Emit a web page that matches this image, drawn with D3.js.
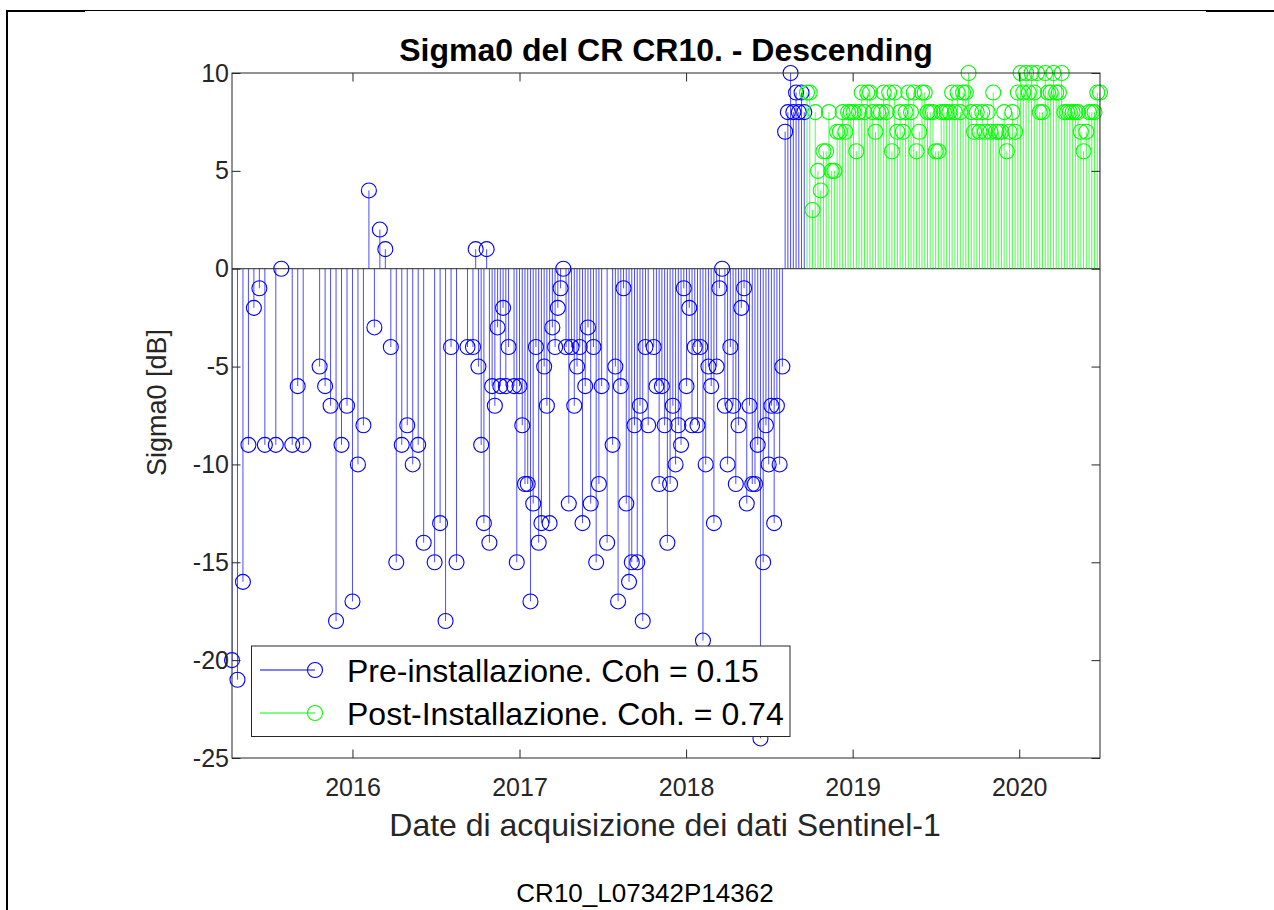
<!DOCTYPE html>
<html><head><meta charset="utf-8">
<script src="https://cdn.jsdelivr.net/npm/d3@7"></script>
<style>
body{margin:0;background:#fff;}
svg{display:block;font-family:"Liberation Sans",Arial,Helvetica,sans-serif;}
</style>
</head><body>
<svg id="chart" width="1274" height="910"></svg>
<script>
// ---- data ----
const preDates = [
"2015-04-12","2015-04-24","2015-05-06","2015-05-18","2015-05-30","2015-06-11","2015-06-23","2015-07-17","2015-07-29","2015-08-22",
"2015-09-03","2015-09-15","2015-10-21","2015-11-02","2015-11-14","2015-11-26","2015-12-08","2015-12-20","2016-01-01","2016-01-13",
"2016-01-25","2016-02-06","2016-02-18","2016-03-01","2016-03-13","2016-03-25","2016-04-06","2016-04-18","2016-04-30","2016-05-12",
"2016-05-24","2016-06-05","2016-06-29","2016-07-11","2016-07-23","2016-08-04","2016-08-16",
"2016-09-09","2016-09-21","2016-09-27","2016-10-03","2016-10-09","2016-10-15","2016-10-21","2016-10-27","2016-11-02","2016-11-08",
"2016-11-14","2016-11-20","2016-11-26","2016-12-02","2016-12-08","2016-12-20","2016-12-26","2017-01-01","2017-01-07","2017-01-13",
"2017-01-19","2017-01-25","2017-01-31","2017-02-06","2017-02-12","2017-02-18","2017-02-24","2017-03-02","2017-03-08","2017-03-14",
"2017-03-20","2017-03-26","2017-04-01","2017-04-07","2017-04-13","2017-04-19","2017-04-25","2017-05-01","2017-05-07","2017-05-13",
"2017-05-19","2017-05-25","2017-05-31","2017-06-06","2017-06-12","2017-06-18","2017-06-24","2017-06-30","2017-07-12","2017-07-24",
"2017-07-30","2017-08-05","2017-08-11","2017-08-17","2017-08-23","2017-08-29","2017-09-04","2017-09-10","2017-09-16","2017-09-22",
"2017-09-28","2017-10-04","2017-10-10","2017-10-22","2017-10-28","2017-11-03","2017-11-09","2017-11-15","2017-11-21","2017-11-27",
"2017-12-03","2017-12-09","2017-12-15","2017-12-21","2017-12-27","2018-01-02","2018-01-08","2018-01-14","2018-01-20","2018-01-26",
"2018-02-01","2018-02-07","2018-02-13","2018-02-19","2018-02-25","2018-03-03","2018-03-09","2018-03-15","2018-03-21","2018-03-27",
"2018-04-02","2018-04-08","2018-04-14","2018-04-20","2018-04-26","2018-05-02","2018-05-08","2018-05-14","2018-05-20","2018-05-26",
"2018-06-01","2018-06-07","2018-06-13","2018-06-19","2018-06-25","2018-07-01","2018-07-07","2018-07-13","2018-07-19","2018-07-25",
"2018-07-31","2018-08-06","2018-08-12","2018-08-18","2018-08-24","2018-08-30","2018-09-05","2018-09-11","2018-09-17"
];
const preSigma = [
-20,-21,-16,-9,-2,-1,-9,-9,0,-9,
-6,-9,-5,-6,-7,-18,-9,-7,-17,-10,
-8,4,-3,2,1,-4,-15,-9,-8,-10,
-9,-14,-15,-13,-18,-4,-15,
-4,-4,1,-5,-9,-13,1,-14,-6,-7,
-3,-6,-2,-6,-4,-6,-15,-6,-8,-11,
-11,-17,-12,-4,-14,-13,-5,-7,-13,-3,
-4,-2,-1,0,-4,-12,-4,-7,-5,-4,
-13,-6,-3,-12,-4,-15,-11,-6,-14,-9,
-5,-17,-6,-1,-12,-16,-15,-8,-15,-7,
-18,-4,-8,-4,-6,-11,-6,-8,-14,-11,
-7,-10,-8,-9,-1,-6,-2,-8,-4,-8,
-4,-19,-10,-5,-6,-13,-5,-1,0,-7,
-10,-4,-7,-11,-8,-2,-1,-12,-7,-11,
-11,-9,-24,-15,-8,-10,-7,-13,-7,-10,
-5,7,8,10,8,9,8,9,8
];
const postDates = [
"2018-09-23","2018-09-29","2018-10-05","2018-10-11","2018-10-17","2018-10-23","2018-10-29","2018-11-04","2018-11-10","2018-11-16",
"2018-11-22","2018-11-28","2018-12-04","2018-12-10","2018-12-16","2018-12-22","2018-12-28","2019-01-03","2019-01-09","2019-01-15",
"2019-01-21","2019-01-27","2019-02-02","2019-02-08","2019-02-14","2019-02-20","2019-02-26","2019-03-04","2019-03-10","2019-03-16",
"2019-03-22","2019-03-28","2019-04-03","2019-04-09","2019-04-15","2019-04-21","2019-04-27","2019-05-03","2019-05-09","2019-05-15",
"2019-05-21","2019-05-27","2019-06-02","2019-06-08","2019-06-14","2019-06-20","2019-06-26","2019-07-02","2019-07-08","2019-07-14",
"2019-07-20","2019-07-26","2019-08-01","2019-08-07","2019-08-13","2019-08-19","2019-08-25","2019-08-31","2019-09-06","2019-09-12",
"2019-09-18","2019-09-24","2019-09-30","2019-10-06","2019-10-12","2019-10-18","2019-10-24","2019-10-30","2019-11-05","2019-11-11",
"2019-11-17","2019-11-23","2019-11-29","2019-12-05","2019-12-11","2019-12-17","2019-12-23","2019-12-29","2020-01-04","2020-01-10",
"2020-01-16","2020-01-22","2020-01-28","2020-02-03","2020-02-09","2020-02-15","2020-02-21","2020-02-27","2020-03-04","2020-03-10",
"2020-03-16","2020-03-22","2020-03-28","2020-04-03","2020-04-09","2020-04-15","2020-04-21","2020-04-27","2020-05-03","2020-05-09",
"2020-05-15","2020-05-21","2020-05-27","2020-06-02","2020-06-08","2020-06-14","2020-06-20","2020-06-26"
];
const postSigma = [
9,9,3,8,5,4,6,6,8,5,
5,7,7,8,7,8,8,8,6,8,
9,8,9,9,8,7,8,8,9,8,
9,6,9,7,8,7,8,9,8,9,
6,7,9,9,8,8,8,6,6,8,
8,8,8,9,8,9,8,9,9,10,
8,7,8,7,8,7,8,7,9,7,
7,7,8,6,7,8,7,9,10,9,
10,9,10,9,10,8,8,10,9,9,
10,9,9,10,8,8,8,8,8,8,
7,6,7,8,8,8,9,9
];
const yTickValues = [-25,-20,-15,-10,-5,0,5,10];
const xTickYears = ["2016","2017","2018","2019","2020"];
const seriesNames = ["Pre-installazione. Coh = 0.15","Post-Installazione. Coh. = 0.74"];
const seriesColors = ["#0000ff","#00ff00"];
const titleText = "Sigma0 del CR CR10. - Descending";
const xLabelText = "Date di acquisizione dei dati Sentinel-1";
const yLabelText = "Sigma0 [dB]";
const footerText = "CR10_L07342P14362";

// ---- layout ----
const parse = d3.utcParse("%Y-%m-%d");
const L = 232, R = 1100, T = 73, B = 758;
const axisColor = "#262626";
const svg = d3.select("#chart");
svg.append("rect").attr("width",1274).attr("height",910).attr("fill","#fff");

// page frame (document table border)
const frame = svg.append("g");
frame.append("line").attr("x1",7).attr("x2",1274).attr("y1",10.5).attr("y2",10.5).attr("stroke","#000").attr("stroke-width",1);
frame.append("line").attr("x1",6).attr("x2",85).attr("y1",11).attr("y2",11).attr("stroke","#000").attr("stroke-width",2);
frame.append("line").attr("x1",1206).attr("x2",1274).attr("y1",11).attr("y2",11).attr("stroke","#000").attr("stroke-width",2);
frame.append("line").attr("x1",7).attr("x2",7).attr("y1",10).attr("y2",910).attr("stroke","#000").attr("stroke-width",2);

const x = d3.scaleUtc().domain([parse("2015-04-12"), parse("2020-06-26")]).range([L, R]);
const y = d3.scaleLinear().domain([-25, 10]).range([B, T]);

svg.append("defs").append("clipPath").attr("id","plotclip")
  .append("rect").attr("x",L).attr("y",T).attr("width",R-L).attr("height",B-T);

const series = [
  {dates: preDates, vals: preSigma, color: seriesColors[0]},
  {dates: postDates, vals: postSigma, color: seriesColors[1]}
];

const plot = svg.append("g");
series.forEach(s => {
  const pts = s.dates.map((d,i) => ({d: parse(d), v: s.vals[i]}));
  const g = plot.append("g");
  g.append("g").attr("clip-path","url(#plotclip)")
    .selectAll("line").data(pts).join("line")
    .attr("x1", p => x(p.d)).attr("x2", p => x(p.d))
    .attr("y1", y(0)).attr("y2", p => y(p.v))
    .attr("stroke", s.color).attr("stroke-width", 1).attr("stroke-opacity", 0.7);
  s.pts = pts; s.g = g;
});
// baseline
plot.append("line").attr("x1",L).attr("x2",R).attr("y1",y(0)).attr("y2",y(0))
  .attr("stroke",axisColor).attr("stroke-width",1);
series.forEach(s => {
  s.g.append("g").selectAll("circle").data(s.pts).join("circle")
    .attr("cx", p => x(p.d)).attr("cy", p => y(p.v)).attr("r", 7.5)
    .attr("fill","none").attr("stroke", s.color).attr("stroke-width", 1.1);
});
series[1].g.raise();

// ---- axes ----
const fsTick = 25;
const yAxis = d3.axisLeft(y).tickValues(yTickValues).tickSizeInner(-8.5).tickSizeOuter(0).tickPadding(3)
  .tickFormat(d => String(d));
const yAxisR = d3.axisRight(y).tickValues(yTickValues).tickSizeInner(-8.5).tickSizeOuter(0).tickFormat("");
const xTickDates = xTickYears.map(t => parse(t + "-01-01"));
const xAxis = d3.axisBottom(x).tickValues(xTickDates).tickSizeInner(-8.5).tickSizeOuter(0).tickPadding(20)
  .tickFormat((d,i) => xTickYears[i]);
const xAxisT = d3.axisTop(x).tickValues(xTickDates).tickSizeInner(-8.5).tickSizeOuter(0).tickFormat("");

function styleAxis(g){
  g.select(".domain").remove();
  g.selectAll("line").attr("stroke",axisColor);
  g.selectAll("text").attr("fill",axisColor).attr("font-size",fsTick).attr("font-family",null);
}
svg.append("g").attr("transform",`translate(${L},0)`).call(yAxis).call(styleAxis);
svg.append("g").attr("transform",`translate(${R},0)`).call(yAxisR).call(styleAxis);
svg.append("g").attr("transform",`translate(0,${B})`).call(xAxis).call(styleAxis);
svg.append("g").attr("transform",`translate(0,${T})`).call(xAxisT).call(styleAxis);

svg.append("rect").attr("x",L).attr("y",T).attr("width",R-L).attr("height",B-T)
  .attr("fill","none").attr("stroke",axisColor).attr("stroke-width",1);

// ---- labels ----
svg.append("text").attr("x",(L+R)/2).attr("y",61).attr("text-anchor","middle")
  .attr("font-size",32).attr("font-weight","bold").attr("fill","#000").text(titleText);
svg.append("text").attr("x",(L+R)/2 - 1).attr("y",836).attr("text-anchor","middle")
  .attr("font-size",32).attr("fill",axisColor).text(xLabelText);
svg.append("text").attr("transform",`translate(166,${(T+B)/2 - 13}) rotate(-90)`).attr("text-anchor","middle")
  .attr("font-size",27).attr("fill",axisColor).text(yLabelText);
svg.append("text").attr("x",645).attr("y",902).attr("text-anchor","middle")
  .attr("font-size",26).attr("fill","#000").text(footerText);

// ---- legend ----
const lg = svg.append("g");
lg.append("rect").attr("x",251.5).attr("y",646).attr("width",538.5).attr("height",90.5)
  .attr("fill","#fff").attr("stroke",axisColor).attr("stroke-width",1);
const legendY = [670, 713];
seriesNames.forEach((name,i) => {
  lg.append("line").attr("x1",260).attr("x2",315).attr("y1",legendY[i]).attr("y2",legendY[i])
    .attr("stroke",seriesColors[i]).attr("stroke-width",1.2);
  lg.append("circle").attr("cx",315).attr("cy",legendY[i]).attr("r",7.5)
    .attr("fill","none").attr("stroke",seriesColors[i]).attr("stroke-width",1.1);
  lg.append("text").attr("x",347).attr("y",legendY[i]+11.5).attr("font-size",32)
    .attr("fill","#000").text(name);
});
</script>
</body></html>
